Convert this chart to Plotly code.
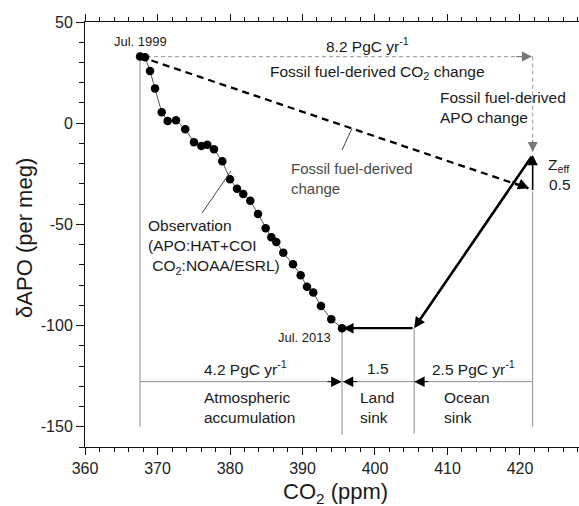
import plotly.graph_objects as go

# ---------------- data ----------------
obs_co2 = [367.59, 368.28, 368.97, 369.66, 370.58, 371.41, 372.55, 373.83, 375.03, 376.04,
           376.87, 377.79, 378.94, 380.00, 380.97, 381.83, 382.80, 383.86, 384.92, 385.70,
           386.39, 387.35, 388.69, 389.75, 390.62, 391.49, 392.55, 393.97, 395.45]
obs_apo = [32.9, 32.6, 25.8, 17.2, 5.4, 1.1, 1.4, -3.0, -9.4, -11.3,
           -10.6, -12.9, -18.8, -27.7, -32.4, -35.0, -38.3, -44.9, -51.9, -56.4,
           -58.7, -64.0, -69.7, -75.1, -80.8, -83.7, -90.3, -96.9, -101.3]

ff_co2_end = 421.75      # CO2 after fossil-fuel emissions only
ff_apo_end = -33.8       # APO after fossil-fuel emissions only
zeff_apo = -15.7         # APO after ocean outgassing (Zeff) correction
ocean_co2 = 405.4        # CO2 after ocean sink
flux_y = -127.7
flux_bottom = [-150, -154, -153.5, -150]

flux_values = ["4.2 PgC yr<sup>-1</sup>", "1.5", "2.5 PgC yr<sup>-1</sup>"]
flux_names = ["Atmospheric<br>accumulation", "Land<br>sink", "Ocean<br>sink"]
ff_value = "8.2 PgC yr<sup>-1</sup>"
zeff_value = "0.5"

x_tickvals = [360, 370, 380, 390, 400, 410, 420]
x_ticktext = ["360", "370", "380", "390", "400", "410", "420"]
y_tickvals = [-150, -100, -50, 0, 50]
y_ticktext = ["-150", "-100", "-50", "0", "50"]

FONT = "Liberation Sans, Arial, sans-serif"
TXT = "#1a1a1a"
GREY = "#8c8c8c"

fig = go.Figure()

co2_0, apo_0 = obs_co2[0], obs_apo[0]
co2_1, apo_1 = obs_co2[-1], obs_apo[-1]

# grey vertical guides and horizontal flux line
guide_x = [co2_0, co2_1, ocean_co2, ff_co2_end]
guide_top = [apo_0, apo_1, apo_1, ff_apo_end]
for gx, gt, gb in zip(guide_x, guide_top, flux_bottom):
    fig.add_trace(go.Scatter(x=[gx, gx], y=[gt, gb], mode="lines",
                             line=dict(color=GREY, width=1), hoverinfo="skip"))
fig.add_trace(go.Scatter(x=[co2_0, ff_co2_end], y=[flux_y, flux_y], mode="lines",
                         line=dict(color=GREY, width=1), hoverinfo="skip"))

# grey dashed fossil-fuel CO2 and APO change paths
fig.add_trace(go.Scatter(x=[co2_0, ff_co2_end], y=[apo_0, apo_0], mode="lines",
                         line=dict(color="#9a9a9a", width=1, dash="4px,3px"), hoverinfo="skip"))
fig.add_trace(go.Scatter(x=[ff_co2_end, ff_co2_end], y=[apo_0, zeff_apo + 1], mode="lines",
                         line=dict(color="#9a9a9a", width=1, dash="4px,3px"), hoverinfo="skip"))

# black dashed fossil-fuel-derived change
fig.add_trace(go.Scatter(x=[co2_0, ff_co2_end - 0.6], y=[apo_0, ff_apo_end + 1.6], mode="lines",
                         line=dict(color="black", width=2.3, dash="7px,5px"), hoverinfo="skip"))

# observations
fig.add_trace(go.Scatter(x=obs_co2, y=obs_apo, mode="lines+markers",
                         line=dict(color="#555555", width=1),
                         marker=dict(color="black", size=8.5), hoverinfo="skip"))

ann = []

def arrow(x, y, ax, ay, color="black", width=2, size=1.0):
    ann.append(dict(x=x, y=y, ax=ax, ay=ay, xref="x", yref="y", axref="x", ayref="y",
                    text="", showarrow=True, arrowhead=2, arrowsize=size,
                    arrowwidth=width, arrowcolor=color, standoff=0, startstandoff=0))

# thick black arrows
arrow(ocean_co2, apo_1, ff_co2_end, zeff_apo, width=2.6, size=0.85)
arrow(co2_1 + 0.15, apo_1, ocean_co2, apo_1, width=2.2, size=0.95)
arrow(ff_co2_end, zeff_apo, ff_co2_end, ff_apo_end, width=1.6, size=1.3)
# head of dashed line
arrow(ff_co2_end - 0.5, ff_apo_end + 1.6, ff_co2_end - 3.0, ff_apo_end + 1.6 + 3.0 * 1.2325, width=1, size=2.2)
# grey dashed heads
arrow(ff_co2_end - 0.1, apo_0, ff_co2_end - 2.5, apo_0, color="#777777", width=1, size=2.0)
arrow(ff_co2_end, zeff_apo + 1.5, ff_co2_end, zeff_apo + 8, color="#777777", width=1, size=2.0)
# flux arrows on the partition line
arrow(co2_1 - 0.05, flux_y, co2_1 - 2.2, flux_y, width=1, size=2.1)
arrow(co2_1 + 0.1, flux_y, co2_1 + 2.3, flux_y, width=1, size=2.1)
arrow(ocean_co2, flux_y, ocean_co2 + 2.2, flux_y, width=1, size=2.1)

# leader lines
fig.add_trace(go.Scatter(x=[395.45, 396.83], y=[-13.25, -2.6], mode="lines",
                         line=dict(color="#444444", width=1), hoverinfo="skip"))
fig.add_trace(go.Scatter(x=[376.14, 380.14], y=[-44.4, -23.6], mode="lines",
                         line=dict(color="#444444", width=1), hoverinfo="skip"))

def label(x, y, text, size=15.5, xanchor="center", align="center", color=TXT):
    ann.append(dict(x=x, y=y, xref="x", yref="y", text=text, showarrow=False,
                    xanchor=xanchor, yanchor="middle", align=align,
                    font=dict(family=FONT, size=size, color=color)))

label(367.59, 40.6, "Jul. 1999", size=13)
label(398.9, 38.6, ff_value, size=15.5)
label(400.4, 24.95, "Fossil fuel-derived CO<sub>2</sub> change", size=15.5)
label(408.69, 8.0, "Fossil fuel-derived<br>APO change", size=15.5, xanchor="left", align="left")
label(423.6, -20.7, "Z<sub>eff</sub>", size=15.5, xanchor="left", align="left")
label(423.72, -30.5, zeff_value, size=15.5, xanchor="left", align="left")
label(388.14, -27.2, "Fossil fuel-derived<br>change", size=15, xanchor="left", align="left", color="#4a4a4a")
label(368.41, -61.4, "Observation<br>(APO:HAT+COI<br>&nbsp;CO<sub>2</sub>:NOAA/ESRL)", size=15.5,
      xanchor="left", align="left")
label(390.21, -106.1, "Jul. 2013", size=13)

flux_centers = [382.07, 400.41, 413.52]
name_lefts = [376.1, 397.66, 409.2]
for cx, v in zip(flux_centers, flux_values):
    label(cx, -121.0, v, size=15.5)
for lx, n in zip(name_lefts, flux_names):
    label(lx, -140.5, n, size=15.5, xanchor="left", align="left")

# axis titles
ann.append(dict(x=394.5, y=0, xref="x", yref="paper", yshift=-46, yanchor="middle",
                text="CO<sub>2</sub> (ppm)", showarrow=False,
                font=dict(family=FONT, size=22, color=TXT)))
ann.append(dict(x=0, y=-56.7, xref="paper", yref="y", xshift=-60, xanchor="center",
                text="δAPO (per meg)", showarrow=False, textangle=-90,
                font=dict(family=FONT, size=22, color=TXT)))

fig.update_layout(
    width=579, height=506,
    margin=dict(l=85, r=0, t=22, b=59),
    plot_bgcolor="white", paper_bgcolor="white",
    showlegend=False,
    annotations=ann,
    font=dict(family=FONT, color=TXT),
    xaxis=dict(range=[360, 428.14], showline=True, linecolor="#111", linewidth=1,
               ticks="outside", ticklen=7, tickwidth=1, tickcolor="#111",
               tickmode="array", tickvals=x_tickvals, ticktext=x_ticktext,
               mirror="allticks", showgrid=False, zeroline=False,
               minor=dict(tick0=360, dtick=2, ticklen=4, ticks="outside", tickcolor="#111", showgrid=False),
               tickfont=dict(family=FONT, size=16, color="#222")),
    yaxis=dict(range=[-160, 50], showline=True, linecolor="#111", linewidth=1,
               ticks="outside", ticklen=8, tickwidth=1, tickcolor="#111",
               tickmode="array", tickvals=y_tickvals, ticktext=y_ticktext,
               mirror=False, showgrid=False, zeroline=False,
               minor=dict(tick0=0, dtick=10, ticklen=5, ticks="outside", tickcolor="#111", showgrid=False),
               tickfont=dict(family=FONT, size=16, color="#222")),
)

fig.write_html("out.html")
